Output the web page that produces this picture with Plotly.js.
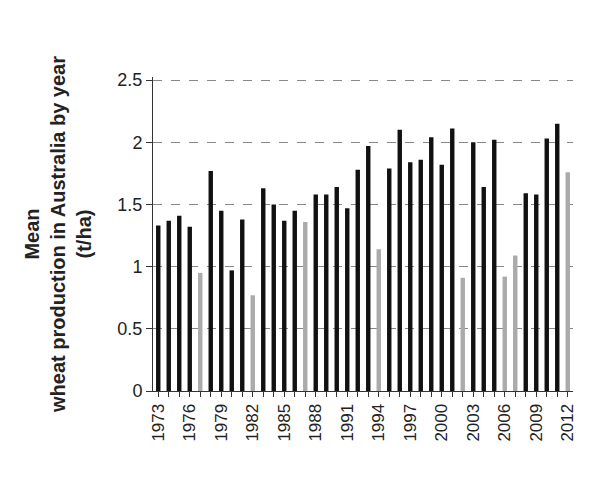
<!DOCTYPE html>
<html>
<head>
<meta charset="utf-8">
<script src="https://cdn.plot.ly/plotly-3.0.1.min.js"></script>
<style>html,body{margin:0;padding:0;background:#fff;}#chart{width:600px;height:500px;}</style>
</head>
<body>
<div id="chart"></div>
<script>
const years = [1973,1974,1975,1976,1977,1978,1979,1980,1981,1982,1983,1984,1985,1986,1987,1988,1989,1990,1991,1992,1993,1994,1995,1996,1997,1998,1999,2000,2001,2002,2003,2004,2005,2006,2007,2008,2009,2010,2011,2012];
const values = [1.33,1.37,1.41,1.32,0.95,1.77,1.45,0.97,1.38,0.77,1.63,1.50,1.37,1.45,1.36,1.58,1.58,1.64,1.47,1.78,1.97,1.14,1.79,2.10,1.84,1.86,2.04,1.82,2.11,0.91,2.00,1.64,2.02,0.92,1.09,1.59,1.58,2.03,2.15,1.76];
const droughtYears = [1977,1982,1987,1994,2002,2006,2007,2012];
const tickYears = [1973,1976,1979,1982,1985,1988,1991,1994,1997,2000,2003,2006,2009,2012];
const yTicks = [0,0.5,1,1.5,2,2.5];
const yTickText = ['0','0.5','1','1.5','2','2.5'];

const colors = years.map(y => droughtYears.includes(y) ? '#ababab' : '#111111');

const trace = {
  type: 'bar',
  x: years,
  y: values,
  marker: {color: colors, line: {width: 0}},
  width: 0.42,
  hoverinfo: 'x+y'
};

const layout = {
  width: 600, height: 500,
  margin: {l: 153, r: 27, t: 77, b: 109},
  paper_bgcolor: '#fff', plot_bgcolor: '#fff',
  font: {family: 'Liberation Sans, Arial, sans-serif', color: '#222'},
  showlegend: false,
  xaxis: {
    type: 'linear',
    range: [1972.5, 2012.5],
    tickvals: tickYears,
    ticktext: tickYears.map(String),
    tickangle: -90,
    ticks: 'outside', ticklen: 5, tickcolor: '#333', tickwidth: 1,
    minor: {tickvals: years, ticks: 'outside', ticklen: 5, tickcolor: '#333', tickwidth: 1, showgrid: false},
    showline: true, linecolor: '#333', linewidth: 1,
    showgrid: false, zeroline: false,
    tickfont: {size: 17, color: '#222'}
  },
  yaxis: {
    range: [0, 2.525],
    tickvals: yTicks,
    ticktext: yTickText,
    ticks: 'outside', ticklen: 6, tickcolor: '#333',
    showline: true, linecolor: '#333', linewidth: 1,
    showgrid: true, gridcolor: '#888', griddash: 'dash', gridwidth: 1,
    zeroline: false,
    tickfont: {size: 18, color: '#222'},
    title: {
      text: '<b>Mean<br>wheat production in Australia by year<br>(t/ha)</b>',
      font: {size: 20, color: '#222'},
      standoff: 20
    }
  }
};

Plotly.newPlot('chart', [trace], layout, {staticPlot: true, displayModeBar: false});
</script>
</body>
</html>
